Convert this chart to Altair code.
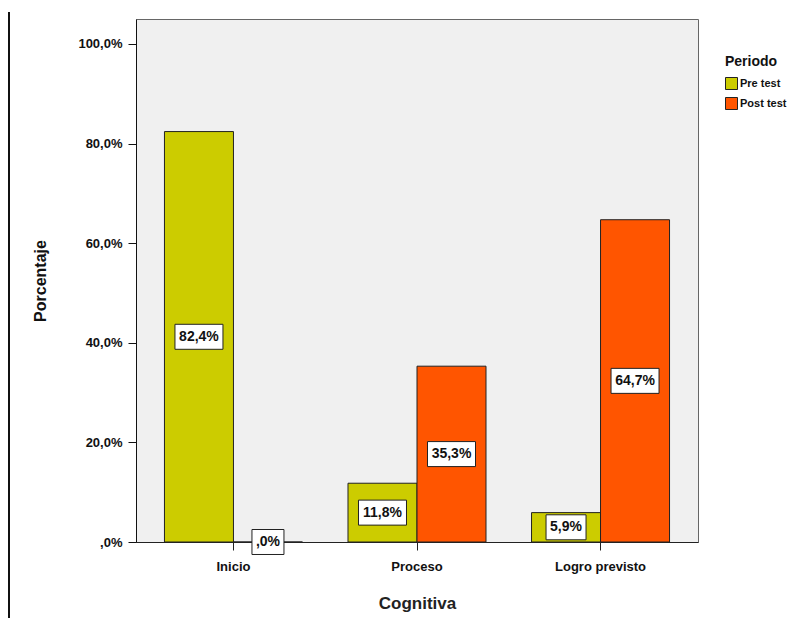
import altair as alt
import pandas as pd

categories = ["Inicio", "Proceso", "Logro previsto"]
periods = ["Pre test", "Post test"]
pre_values = [82.4, 11.8, 5.9]
post_values = [0.0, 35.3, 64.7]
y_ticks = [0, 20, 40, 60, 80, 100]

rows = []
for c, a, b in zip(categories, pre_values, post_values):
    rows.append({"Cognitiva": c, "Periodo": "Pre test", "pct": a})
    rows.append({"Cognitiva": c, "Periodo": "Post test", "pct": b})
df = pd.DataFrame(rows)

FONT = "Liberation Sans Narrow, Liberation Sans, Arial"
LABEL_FONT = "Liberation Sans Narrow, Liberation Sans, Arial"

x_enc = alt.X(
    "Cognitiva:N",
    sort=categories,
    scale=alt.Scale(paddingInner=0, paddingOuter=0.031),
    axis=alt.Axis(
        title="Cognitiva", labelAngle=0, tickSize=8, labelPadding=10,
        labelFont=FONT, labelFontSize=13, labelFontWeight="bold", labelColor="#111",
        titleFont=FONT, titleFontSize=17, titleFontWeight="bold", titleColor="#222",
        titlePadding=22, domainColor="#222", tickColor="#222",
    ),
)
xoff_enc = alt.XOffset("Periodo:N", sort=periods,
                       scale=alt.Scale(paddingOuter=0.33, paddingInner=0))

yscale = alt.Scale(domain=[0, 105], nice=False)
y_axis = alt.Axis(
    values=y_ticks, title="Porcentaje", grid=False, tickSize=8, labelPadding=6,
    labelExpr="datum.value == 0 ? ',0%' : replace(format(datum.value, '.1f'), '.', ',') + '%'",
    labelFont=FONT, labelFontSize=13, labelFontWeight="bold", labelColor="#111",
    titleFont=FONT, titleFontSize=16, titleFontWeight="bold", titleColor="#111",
    titlePadding=29, domainColor="#111", tickColor="#111",
)

base = alt.Chart(df).transform_calculate(
    label="datum.pct == 0 ? ',0%' : replace(format(datum.pct, '.1f'), '.', ',') + '%'"
).transform_calculate(
    mid="datum.pct / 2",
    nchar="length(datum.label)",
)

bars = base.mark_bar(stroke="#222", strokeWidth=1).encode(
    x=x_enc,
    xOffset=xoff_enc,
    y=alt.Y("pct:Q", scale=yscale, axis=y_axis, title="Porcentaje"),
    color=alt.Color(
        "Periodo:N", sort=periods,
        scale=alt.Scale(domain=periods, range=["#CCCC00", "#FF5500"]),
        legend=alt.Legend(
            title="Periodo", orient="none", legendX=589, legendY=36,
            symbolType="square", symbolSize=144, symbolStrokeColor="#222",
            symbolStrokeWidth=1, symbolOpacity=1,
            labelFont=FONT, labelFontSize=11, labelFontWeight="bold", labelColor="#111",
            titleFont=FONT, titleFontSize=14, titleFontWeight="bold", titleColor="#111",
            rowPadding=3, titlePadding=8, labelOffset=2,
        ),
    ),
)

# label boxes: (character count, box width px, box height px)
box_specs = [(3, 32, 25), (4, 40, 25), (5, 48, 25)]
box_layers = []
for n, w, h in box_specs:
    hh = h / w
    path = f"M-1,-{hh:.4f}L1,-{hh:.4f}L1,{hh:.4f}L-1,{hh:.4f}Z"
    box_layers.append(
        base.transform_filter(f"datum.nchar == {n}").mark_point(
            shape=path, size=w * w, filled=True, fill="white",
            stroke="#222", strokeWidth=1, opacity=1,
        ).encode(
            x=x_enc,
            xOffset=xoff_enc,
            y=alt.Y("mid:Q", scale=yscale, axis=y_axis, title="Porcentaje"),
        )
    )

texts = base.mark_text(font=LABEL_FONT, fontSize=14, fontWeight="bold", color="#111",
                       align="center", baseline="middle").encode(
    x=x_enc,
    xOffset=xoff_enc,
    y=alt.Y("mid:Q", scale=yscale, axis=y_axis, title="Porcentaje"),
    text="label:N",
)

edge = alt.Chart(alt.Data(values=[{}])).mark_rule(color="#111", strokeWidth=2).encode(
    x=alt.value(-127), y=alt.value(-7), y2=alt.value(620)
)

chart = alt.layer(bars, *box_layers, texts, edge).properties(
    width=562, height=523,
    autosize="none",
    padding={"left": 128, "top": 11, "right": 92, "bottom": 76},
).configure(
    background="white",
    view=alt.ViewConfig(fill="#F0F0F0", stroke="#666666", strokeWidth=1),
)

chart.save("out.html", embed_options={"renderer": "svg", "actions": False})
